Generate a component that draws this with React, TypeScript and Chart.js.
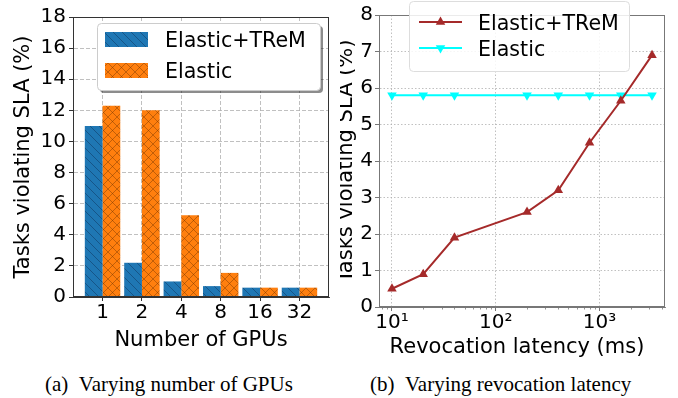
import React, { useEffect, useRef } from 'react';
import { Chart, registerables } from 'chart.js';

Chart.register(...registerables);

// ---- (a) SLA violations vs. number of GPUs ----
const gpuLabels = ['1', '2', '4', '8', '16', '32'];
const tremByGpus = [11.0, 2.2, 1.0, 0.7, 0.6, 0.6];
const elasticByGpus = [12.3, 12.0, 5.25, 1.55, 0.6, 0.6];

// ---- (b) SLA violations vs. revocation latency ----
const latencyMs = [10, 20, 40, 200, 400, 800, 1600, 3200];
const tremByLatency = [0.5, 0.9, 1.9, 2.6, 3.2, 4.5, 5.65, 6.9];
const elasticByLatency = [5.8, 5.8, 5.8, 5.8, 5.8, 5.8, 5.8, 5.8];
const latencyMajorTicks = [10, 100, 1000];
const latencyTickLabels = ['10¹', '10²', '10³'];
const latencyMinorTicks = [8, 9, 20, 30, 40, 50, 60, 70, 80, 90, 200, 300, 400, 500, 600, 700, 800, 900, 2000, 3000, 4000];

const seriesNames = ['Elastic+TReM', 'Elastic'];
const yTitle = 'Tasks violating SLA (%)';

const FONT_FAMILY = '"DejaVu Sans", Verdana, sans-serif';
const tickFont = { family: FONT_FAMILY, size: 20 };
const TITLE_FONT = `21px ${FONT_FAMILY}`;
const LEGEND_FONT = `20.6px ${FONT_FAMILY}`;
const CANVAS_H = 360;

function hatchPattern(ctx: CanvasRenderingContext2D, base: string, line: string, cross: boolean) {
  const s = 9;
  const c = document.createElement('canvas');
  c.width = s;
  c.height = s;
  const g = c.getContext('2d')!;
  g.fillStyle = base;
  g.fillRect(0, 0, s, s);
  g.strokeStyle = line;
  g.lineWidth = 0.8;
  g.beginPath();
  for (const k of [-s, 0, s]) {
    g.moveTo(k, 0);
    g.lineTo(k + s, s);
    if (cross) {
      g.moveTo(k + s, 0);
      g.lineTo(k, s);
    }
  }
  g.stroke();
  return ctx.createPattern(c, 'repeat')!;
}

function roundRect(ctx: CanvasRenderingContext2D, x: number, y: number, w: number, h: number, r: number) {
  ctx.beginPath();
  ctx.moveTo(x + r, y);
  ctx.lineTo(x + w - r, y);
  ctx.quadraticCurveTo(x + w, y, x + w, y + r);
  ctx.lineTo(x + w, y + h - r);
  ctx.quadraticCurveTo(x + w, y + h, x + w - r, y + h);
  ctx.lineTo(x + r, y + h);
  ctx.quadraticCurveTo(x, y + h, x, y + h - r);
  ctx.lineTo(x, y + r);
  ctx.quadraticCurveTo(x, y, x + r, y);
  ctx.closePath();
}

function drawFrame(chart: any, color: string) {
  const { ctx, chartArea: a } = chart;
  ctx.save();
  ctx.strokeStyle = color;
  ctx.lineWidth = 1;
  ctx.strokeRect(Math.round(a.left) + 0.5, Math.round(a.top) + 0.5, Math.round(a.right - a.left) - 1, Math.round(a.bottom - a.top) - 1);
  ctx.restore();
}

function drawAxisTitles(chart: any, xCenter: number, xBaseline: number, yBaseline: number) {
  const { ctx, chartArea: a } = chart;
  ctx.save();
  ctx.fillStyle = '#000';
  ctx.font = TITLE_FONT;
  ctx.textAlign = 'center';
  ctx.textBaseline = 'alphabetic';
  ctx.fillText(chart.options.scales.x.title.text, xCenter, xBaseline);
  ctx.translate(yBaseline, (a.top + a.bottom) / 2);
  ctx.rotate(-Math.PI / 2);
  ctx.fillText(chart.options.scales.y.title.text, 0, 0);
  ctx.restore();
}

function triangle(ctx: CanvasRenderingContext2D, x: number, y: number, r: number, down: boolean) {
  const d = down ? -1 : 1;
  ctx.beginPath();
  ctx.moveTo(x, y - d * r);
  ctx.lineTo(x + r * 0.866, y + d * r * 0.5);
  ctx.lineTo(x - r * 0.866, y + d * r * 0.5);
  ctx.closePath();
  ctx.fill();
}

function GpuChart() {
  const ref = useRef<HTMLCanvasElement>(null);
  useEffect(() => {
    const canvas = ref.current!;
    const ctx = canvas.getContext('2d')!;
    const bluePat = hatchPattern(ctx, '#1f77b4', 'rgba(10,35,70,0.5)', false);
    const orangePat = hatchPattern(ctx, '#ff7f0e', 'rgba(100,45,0,0.5)', true);
    const fills = [bluePat, orangePat];

    const overlay = {
      id: 'gpuOverlay',
      afterDraw(chart: any) {
        drawFrame(chart, '#333');
        drawAxisTitles(chart, 201, 346, 29);
        const c = chart.ctx as CanvasRenderingContext2D;
        c.save();
        // legend with drop shadow
        c.fillStyle = 'rgba(0,0,0,0.45)';
        roundRect(c, 100, 26, 223, 67, 4);
        c.fill();
        c.fillStyle = '#fff';
        c.strokeStyle = '#cccccc';
        c.lineWidth = 1;
        roundRect(c, 97.5, 23.5, 223, 67, 4);
        c.fill();
        c.stroke();
        const rows = [32, 63];
        seriesNames.forEach((name, i) => {
          c.fillStyle = fills[i];
          c.fillRect(105, rows[i], 43, 15);
          c.fillStyle = '#000';
          c.font = LEGEND_FONT;
          c.textAlign = 'left';
          c.textBaseline = 'alphabetic';
          c.fillText(name, 165, rows[i] + 15);
        });
        c.restore();
      },
    };

    const chart = new Chart(ctx, {
      type: 'bar',
      data: {
        datasets: [
          { label: seriesNames[0], data: tremByGpus.map((y, i) => ({ x: i, y })), backgroundColor: bluePat, borderWidth: 0 },
          { label: seriesNames[1], data: elasticByGpus.map((y, i) => ({ x: i, y })), backgroundColor: orangePat, borderWidth: 0 },
        ],
      },
      options: {
        animation: false,
        responsive: false,
        devicePixelRatio: 1,
        layout: { padding: { top: 17, right: 11, left: 0, bottom: 0 } },
        plugins: { legend: { display: false }, tooltip: { enabled: false } },
        datasets: { bar: { categoryPercentage: 0.9, barPercentage: 1 } },
        scales: {
          x: {
            type: 'linear',
            min: -0.75,
            max: 5.75,
            offset: false,
            z: 1,
            title: { display: false, text: 'Number of GPUs' },
            afterBuildTicks: (s: any) => {
              s.ticks = gpuLabels.map((_, i) => ({ value: i }));
            },
            afterFit: (s: any) => {
              s.height = CANVAS_H - 297;
            },
            ticks: {
              callback: (v: any) => gpuLabels[v],
              font: tickFont,
              color: '#000',
              padding: 0,
              maxRotation: 0,
              autoSkip: false,
            },
            grid: { offset: false, color: '#b0b0b0', lineWidth: 0.8, tickLength: 4, tickColor: '#333', tickWidth: 1 },
            border: { color: '#333', width: 1, dash: [4, 2] },
          },
          y: {
            min: 0,
            max: 18,
            z: 1,
            title: { display: false, text: yTitle },
            afterFit: (s: any) => {
              s.width = 73;
            },
            ticks: { stepSize: 2, font: tickFont, color: '#000', padding: 3 },
            grid: { color: '#b0b0b0', lineWidth: 0.8, tickLength: 4, tickColor: '#333', tickWidth: 1 },
            border: { color: '#333', width: 1, dash: [4, 2] },
          },
        },
      } as any,
      plugins: [overlay],
    });
    return () => chart.destroy();
  }, []);
  return <canvas ref={ref} width={340} height={CANVAS_H} style={{ position: 'absolute', left: 0, top: 0 }} />;
}

function LatencyChart() {
  const ref = useRef<HTMLCanvasElement>(null);
  useEffect(() => {
    const canvas = ref.current!;
    const ctx = canvas.getContext('2d')!;
    const colors = ['#a52a2a', '#00ffff'];

    const overlay = {
      id: 'latencyOverlay',
      afterDraw(chart: any) {
        drawFrame(chart, '#777');
        drawAxisTitles(chart, 177, 353, 12);
        const c = chart.ctx as CanvasRenderingContext2D;
        const xs = chart.scales.x;
        const bottom = Math.round(chart.chartArea.bottom);
        c.save();
        // minor log ticks
        c.strokeStyle = '#777';
        c.lineWidth = 0.8;
        c.beginPath();
        latencyMinorTicks.forEach((v) => {
          const px = Math.round(xs.getPixelForValue(v)) + 0.5;
          c.moveTo(px, bottom);
          c.lineTo(px, bottom + 2.5);
        });
        c.stroke();
        // legend
        c.fillStyle = 'rgba(255,255,255,0.85)';
        c.strokeStyle = '#dddddd';
        c.lineWidth = 1;
        roundRect(c, 69.5, 1.5, 220, 70, 4);
        c.fill();
        c.stroke();
        const rows = [22, 48];
        seriesNames.forEach((name, i) => {
          c.strokeStyle = colors[i];
          c.fillStyle = colors[i];
          c.lineWidth = 2;
          c.beginPath();
          c.moveTo(79, rows[i]);
          c.lineTo(122, rows[i]);
          c.stroke();
          triangle(c, 100.5, rows[i], 5.5, i === 1);
          c.fillStyle = '#000';
          c.font = LEGEND_FONT;
          c.textAlign = 'left';
          c.textBaseline = 'alphabetic';
          c.fillText(name, 138, rows[i] + 8);
        });
        c.restore();
      },
    };

    const chart = new Chart(ctx, {
      type: 'line',
      data: {
        datasets: [
          {
            label: seriesNames[0],
            data: latencyMs.map((x, i) => ({ x, y: tremByLatency[i] })),
            borderColor: colors[0],
            backgroundColor: colors[0],
            borderWidth: 2,
            pointStyle: 'triangle',
            pointRadius: 5.5,
            pointBorderWidth: 0,
          },
          {
            label: seriesNames[1],
            data: latencyMs.map((x, i) => ({ x, y: elasticByLatency[i] })),
            borderColor: colors[1],
            backgroundColor: colors[1],
            borderWidth: 2,
            pointStyle: 'triangle',
            pointRotation: 180,
            pointRadius: 5.5,
            pointBorderWidth: 0,
          },
        ],
      },
      options: {
        animation: false,
        responsive: false,
        devicePixelRatio: 1,
        layout: { padding: { top: 15, right: 13, left: 0, bottom: 0 } },
        plugins: { legend: { display: false }, tooltip: { enabled: false } },
        scales: {
          x: {
            type: 'logarithmic',
            min: 7.5,
            max: 4266,
            title: { display: false, text: 'Revocation latency (ms)' },
            afterBuildTicks: (s: any) => {
              s.ticks = latencyMajorTicks.map((v) => ({ value: v }));
            },
            afterFit: (s: any) => {
              s.height = CANVAS_H - 307;
            },
            ticks: {
              callback: (_v: any, i: number) => latencyTickLabels[i],
              font: tickFont,
              color: '#000',
              padding: 0,
              maxRotation: 0,
              autoSkip: false,
            },
            grid: { color: '#b0b0b0', lineWidth: 0.8, tickLength: 4, tickColor: '#777', tickWidth: 1 },
            border: { color: '#777', width: 1, dash: [1.5, 2] },
          },
          y: {
            min: 0,
            max: 8,
            title: { display: false, text: yTitle },
            afterFit: (s: any) => {
              s.width = 39;
            },
            ticks: { stepSize: 1, font: tickFont, color: '#000', padding: 2 },
            grid: { color: '#b0b0b0', lineWidth: 0.8, tickLength: 4, tickColor: '#777', tickWidth: 1 },
            border: { color: '#777', width: 1, dash: [1.5, 2] },
          },
        },
      } as any,
      plugins: [overlay],
    });
    return () => chart.destroy();
  }, []);
  return <canvas ref={ref} width={338} height={CANVAS_H} style={{ position: 'absolute', left: 340, top: 0 }} />;
}

const captionStyle: React.CSSProperties = {
  position: 'absolute',
  top: 373,
  fontFamily: '"Liberation Serif", "Times New Roman", serif',
  fontSize: 21,
  lineHeight: '22px',
  color: '#000',
  whiteSpace: 'nowrap',
};

export default function App() {
  return (
    <div style={{ position: 'absolute', left: 0, top: 0, width: 678, height: 398, background: '#fff', overflow: 'hidden' }}>
      <GpuChart />
      <LatencyChart />
      <div style={{ ...captionStyle, left: 45 }}>(a)&nbsp;&nbsp;Varying number of GPUs</div>
      <div style={{ ...captionStyle, left: 370 }}>(b)&nbsp;&nbsp;Varying revocation latency</div>
    </div>
  );
}
